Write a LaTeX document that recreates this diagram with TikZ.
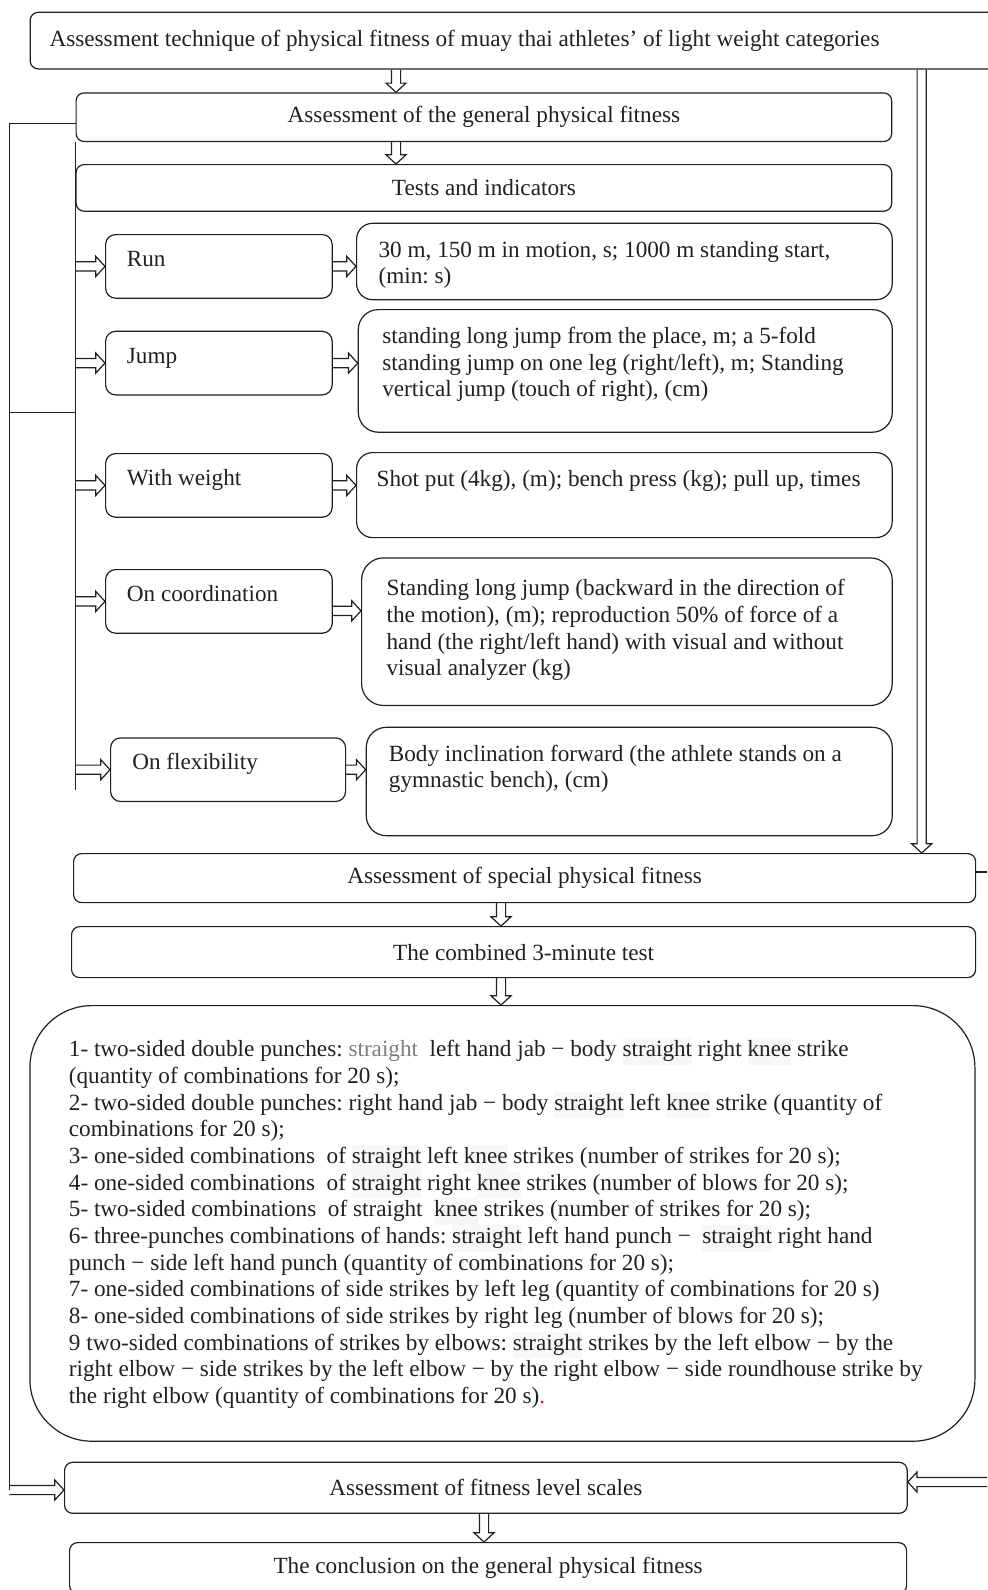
\documentclass[tikz,border=0pt]{standalone}
\usepackage{fontspec}
\setmainfont{Liberation Serif}
\usepackage{xcolor}
\usepackage{tikz}
\usetikzlibrary{calc}
\definecolor{ink}{RGB}{35,31,32}
\definecolor{pale}{RGB}{247,247,250}
\definecolor{soft}{RGB}{125,125,125}
\definecolor{dotred}{RGB}{220,20,20}
\newcommand{\fsz}{\fontsize{11.6pt}{13.33pt}\selectfont\frenchspacing}
\newcommand{\hl}[1]{{\setlength{\fboxsep}{0pt}\colorbox{pale}{\strut#1}}}

\begin{document}
\begin{tikzpicture}[x=0.5pt, y=-0.5pt, line width=0.6pt, color=ink,
  every node/.style={draw, font=\fsz, anchor=north west, inner sep=0pt, rounded corners=4pt, align=center},
  lbox/.style={minimum width=113.3pt, text width=92pt, align=flush left, text height=15.9pt, text depth=15.9pt, rounded corners=5pt},
  rbox/.style={align=flush left, text height=17pt, rounded corners=8pt},
  hollow/.style={to path={let \p1=(\tikztostart), \p2=(\tikztotarget), \n1={atan2(\y2-\y1,\x2-\x1)}, \n2={veclen(\x2-\x1,\y2-\y1)} in
    [shift={(\p1)}, rotate=\n1] (0pt,2.3pt) -- ({\n2-4.6pt},2.3pt) -- ({\n2-4.6pt},5pt) -- (\n2,0pt) -- ({\n2-4.6pt},-5pt) -- ({\n2-4.6pt},-2.3pt) -- (0pt,-2.3pt)}}]
\useasboundingbox (0,0) rectangle (987,1590);
\node[minimum width=490pt, minimum height=28.3pt, text width=470.6pt, align=flush left] (top) at (29.6,11.7) {Assessment technique of physical fitness of muay thai athletes’ of light weight categories};
\node[minimum width=407.8pt, minimum height=24.3pt] (gen) at (75.5,92.3) {Assessment of the general physical fitness};
\node[minimum width=407.8pt, minimum height=23.3pt] (tests) at (75.5,164) {Tests and indicators};
\node[lbox] (run) at (105,234) {Run};
\node[rbox, minimum width=267.8pt, text width=245.8pt, text depth=21.2pt] (runr) at (356,222.7) {30 m, 150 m in motion, s; 1000 m standing start,\\(min: s)};
\node[lbox] (jump) at (105,330.7) {Jump};
\node[rbox, minimum width=267pt, text width=243pt, text depth=44.3pt, rounded corners=10pt] (jumpr) at (357.7,309) {standing long jump from the place, m; a 5-fold\\standing jump on one leg (right/left), m; Standing\\vertical jump (touch of right), (cm)};
\node[lbox] (wt) at (105,453) {With weight};
\node[rbox, minimum width=267.8pt, text width=247.8pt, text depth=25.5pt] (wtr) at (356,452) {Shot put (4kg), (m); bench press (kg); pull up, times};
\node[lbox] (coord) at (105,569) {On coordination};
\node[rbox, minimum width=265.3pt, text width=240.3pt, text height=19pt, text depth=54.8pt, rounded corners=11pt] (coordr) at (361,557.3) {Standing long jump (backward in the direction of\\the motion), (m); reproduction 50\% of force of a\\hand (the right/left hand) with visual and without\\visual analyzer (kg)};
\node[lbox, minimum width=117.5pt, text width=95.8pt] (flex) at (110,737.3) {On flexibility};
\node[rbox, minimum width=263pt, text width=240.4pt, text depth=37.2pt, rounded corners=10pt] (flexr) at (365.7,726.7) {Body inclination forward (the athlete stands on a\\gymnastic bench), (cm)};
\node[minimum width=451pt, minimum height=24.5pt] (spec) at (73,853) {Assessment of special physical fitness};
\node[minimum width=452pt, minimum height=25.5pt] (comb) at (71,926) {The combined 3-minute test};
\node[minimum width=472.5pt, minimum height=217.8pt, text width=433.5pt, align=flush left, rounded corners=31pt] (big) at (29.3,1005) {1- two-sided double punches: \textcolor{soft}{straight}\ \ left hand jab − body \hl{straight} right \hl{knee} strike\\
(quantity of combinations for 20 s);\\
2- two-sided double punches: right hand jab − body \hl{straight} left \hl{knee} strike (quantity of\\
combinations for 20 s);\\
3- one-sided combinations\ \ of \hl{straight} left \hl{knee} strikes (number of strikes for 20 s);\\
4- one-sided combinations\ \ of \hl{straight} right \hl{knee} strikes (number of blows for 20 s);\\
5- two-sided combinations\ \ of straight\ \ \hl{knee} strikes (number of strikes for 20 s);\\
6- three-punches combinations of hands: \hl{straight} left hand punch −\ \ \hl{straight} right hand\\
punch − side left hand punch (quantity of combinations for 20 s);\\
7- one-sided combinations of side strikes by left leg (quantity of combinations for 20 s)\\
8- one-sided combinations of side strikes by right leg (number of blows for 20 s);\\
9 two-sided combinations of strikes by elbows: \hl{straight} strikes by the left elbow − by the\\
right elbow − side strikes by the left elbow − by the right elbow − side roundhouse strike by\\
the right elbow (quantity of combinations for 20 s)\textcolor{dotred}{.}};
\node[minimum width=421.3pt, minimum height=25.5pt] (fit) at (64,1461.7) {Assessment of fitness level scales};
\node[minimum width=418.5pt, minimum height=25.5pt] (concl) at (69,1542) {The conclusion on the general physical fitness};
\coordinate (ax) at (396,0);
\coordinate (bx) at (501,0);
\coordinate (cx) at (484,0);
\coordinate (rx) at (921.7,0);
\coordinate (il) at (75.5,790);
\coordinate (jn) at (9.3,412.7);
\coordinate (ol) at (9.3,1490);
\coordinate (re) at (987,872);
\coordinate (ri) at (987,1482);
\coordinate (ce) at ([yshift=-4.7pt]coord.east);
\draw[hollow] (top.south -| ax) to (gen.north -| ax);
\draw[hollow] (gen.south -| ax) to (tests.north -| ax);
\draw[hollow] (top.south -| rx) to (spec.north -| rx);
\draw (spec.east |- re) -- (re);
\draw[hollow] (spec.south -| bx) to (comb.north -| bx);
\draw[hollow] (comb.south -| bx) to (big.north -| bx);
\draw[hollow] (ri) to (ri -| fit.east);
\draw[hollow] (fit.south -| cx) to (concl.north -| cx);
\draw ([yshift=-3.3pt]gen.west) -| (ol);
\draw (jn) -- (jn -| gen.west);
\draw (gen.south west) -- (il);
\draw[hollow] (ol) to (ol -| fit.west);
\draw[hollow] (run.west -| il) to (run.west);
\draw[hollow] (jump.west -| il) to (jump.west);
\draw[hollow] (wt.west -| il) to (wt.west);
\draw[hollow] (coord.west -| il) to (coord.west);
\draw[hollow] (flex.west -| il) to (flex.west);
\draw[hollow] (run.east) to (run.east -| runr.west);
\draw[hollow] (jump.east) to (jump.east -| jumpr.west);
\draw[hollow] (wt.east) to (wt.east -| wtr.west);
\draw[hollow] (ce) to (ce -| coordr.west);
\draw[hollow] (flex.east) to (flex.east -| flexr.west);
\end{tikzpicture}
\end{document}
